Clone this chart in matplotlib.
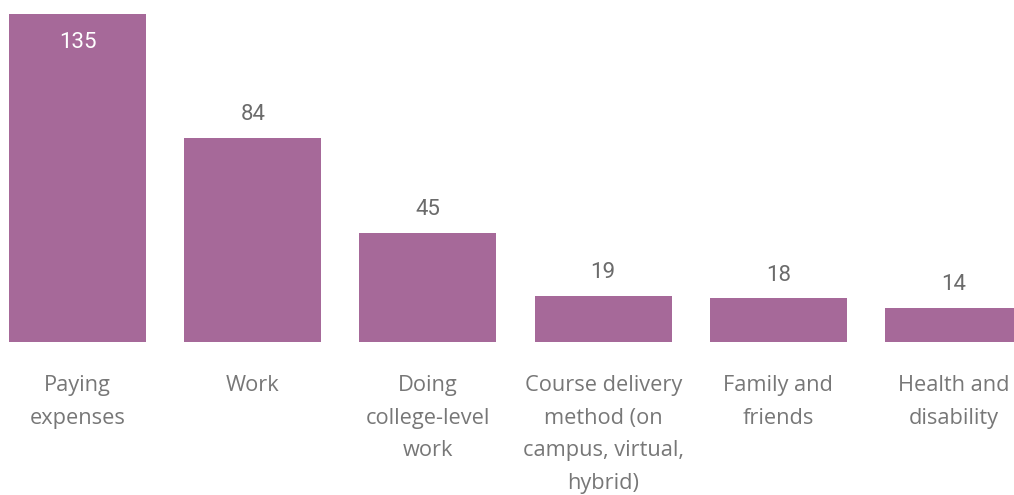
import matplotlib
matplotlib.use("Agg")
import matplotlib.pyplot as plt
import matplotlib.transforms as mtransforms

categories = ["Paying\nexpenses", "Work", "Doing\ncollege-level\nwork",
              "Course delivery\nmethod (on\ncampus, virtual,\nhybrid)",
              "Family and\nfriends", "Health and\ndisability"]
values = [135, 84, 45, 19, 18, 14]

bar_color = "#A66999"
label_color = "#777777"
value_color = "#6B6B6B"

fig = plt.figure(figsize=(10.14, 4.95), dpi=100)
ax = fig.add_axes([0, (495 - 342) / 495, 1, 342 / 495])

x = list(range(len(categories)))
ax.bar(x, values, width=0.782, color=bar_color, linewidth=0)
ax.set_xlim(-0.4424, 5.345)
ax.set_ylim(0, 342 / 2.43)
ax.axis("off")

for xi, v in zip(x, values):
    if v == max(values):
        ax.annotate(str(v), (xi, v), xytext=(0, -13), textcoords="offset points",
                    ha="center", va="top", color="white", fontsize=16,
                    family="Roboto")
    else:
        ax.annotate(str(v), (xi, v), xytext=(0, 9), textcoords="offset points",
                    ha="center", va="bottom", color=value_color, fontsize=16,
                    family="Roboto")

trans = mtransforms.blended_transform_factory(ax.transData, ax.transAxes)
for xi, c in zip(x, categories):
    ax.text(xi, -33 / 342, c, transform=trans, ha="center", va="top",
            multialignment="center", color=label_color, fontsize=15.7,
            family="Open Sans", linespacing=1.73)

fig.savefig("out.png", dpi=100)
